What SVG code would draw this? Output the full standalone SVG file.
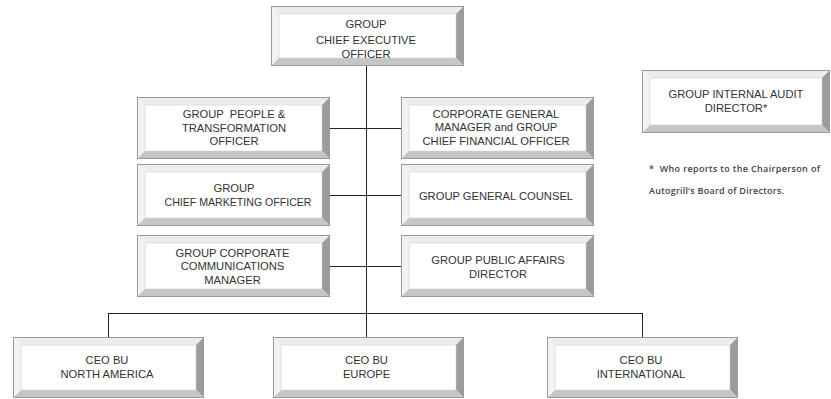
<svg xmlns="http://www.w3.org/2000/svg" xmlns:xlink="http://www.w3.org/1999/xlink" width="831" height="399" viewBox="0 0 831 399">
  <style>
    .top { fill: #ececec; }
    .lft { fill: #f3f3f3; }
    .rgt { fill: #9c9c9c; }
    .bot { fill: #c6c6c6; }
    .face { fill: #ffffff; stroke: #d0d0d0; stroke-width: 0.6; }
    .edge { fill: none; stroke: #9a9a9a; stroke-width: 1; }
    .lbl { font-family: "Liberation Sans", Arial, sans-serif; font-size: 11.2px; fill: #333333; text-anchor: middle; }
    .note { font-family: "Open Sans", "Liberation Sans", sans-serif; font-size: 9px; font-weight: 600; fill: #444444; }
    .link { stroke: #222222; stroke-width: 1; fill: none; }
  </style>
  <defs>
    <!-- bevelled frame, 193 x 62 -->
    <g id="bevel-mid">
      <polygon class="top" points="0,0 193,0 185,8 8,8"/>
      <polygon class="lft" points="0,0 8,8 8,54 0,62"/>
      <polygon class="rgt" points="193,0 193,62 185,54 185,8"/>
      <polygon class="bot" points="0,62 8,54 185,54 193,62"/>
      <rect class="face" x="8" y="8" width="177" height="46"/>
      <rect class="edge" x="0.5" y="0.5" width="192" height="61"/>
    </g>
    <!-- bevelled frame, 193 x 60 -->
    <g id="bevel-ceo">
      <polygon class="top" points="0,0 193,0 185,8 8,8"/>
      <polygon class="lft" points="0,0 8,8 8,52 0,60"/>
      <polygon class="rgt" points="193,0 193,60 185,52 185,8"/>
      <polygon class="bot" points="0,60 8,52 185,52 193,60"/>
      <rect class="face" x="8" y="8" width="177" height="44"/>
      <rect class="edge" x="0.5" y="0.5" width="192" height="59"/>
    </g>
    <!-- bevelled frame, 191 x 61 -->
    <g id="bevel-bu">
      <polygon class="top" points="0,0 191,0 183,8 8,8"/>
      <polygon class="lft" points="0,0 8,8 8,53 0,61"/>
      <polygon class="rgt" points="191,0 191,61 183,53 183,8"/>
      <polygon class="bot" points="0,61 8,53 183,53 191,61"/>
      <rect class="face" x="8" y="8" width="175" height="45"/>
      <rect class="edge" x="0.5" y="0.5" width="190" height="60"/>
    </g>
    <!-- bevelled frame, 188 x 63 -->
    <g id="bevel-audit">
      <polygon class="top" points="0,0 188,0 180,8 8,8"/>
      <polygon class="lft" points="0,0 8,8 8,55 0,63"/>
      <polygon class="rgt" points="188,0 188,63 180,55 180,8"/>
      <polygon class="bot" points="0,63 8,55 180,55 188,63"/>
      <rect class="face" x="8" y="8" width="172" height="47"/>
      <rect class="edge" x="0.5" y="0.5" width="187" height="62"/>
    </g>
  </defs>

  <rect width="831" height="399" fill="#ffffff"/>

  <!-- connectors -->
  <g id="connectors">
    <line class="link" x1="366.5" y1="66" x2="366.5" y2="337"/>
    <line class="link" x1="330" y1="128.5" x2="401" y2="128.5"/>
    <line class="link" x1="330" y1="195.5" x2="401" y2="195.5"/>
    <line class="link" x1="330" y1="266.5" x2="401" y2="266.5"/>
    <line class="link" x1="108" y1="313.5" x2="643" y2="313.5"/>
    <line class="link" x1="108.5" y1="313" x2="108.5" y2="337"/>
    <line class="link" x1="642.5" y1="313" x2="642.5" y2="337"/>
  </g>

  <g id="group-ceo">
    <use href="#bevel-ceo" xlink:href="#bevel-ceo" x="271" y="6"/>
    <text class="lbl" x="366" y="28">GROUP</text>
    <text class="lbl" x="366" y="43.5">CHIEF EXECUTIVE</text>
    <text class="lbl" x="366" y="57.5">OFFICER</text>
  </g>

  <g id="people-transformation">
    <use href="#bevel-mid" xlink:href="#bevel-mid" x="137" y="97"/>
    <text class="lbl" x="234" y="118" xml:space="preserve">GROUP  PEOPLE &amp;</text>
    <text class="lbl" x="234" y="131.5">TRANSFORMATION</text>
    <text class="lbl" x="234" y="144.5">OFFICER</text>
  </g>

  <g id="cfo">
    <use href="#bevel-mid" xlink:href="#bevel-mid" x="401" y="97"/>
    <text class="lbl" x="496" y="117.5">CORPORATE GENERAL</text>
    <text class="lbl" x="496" y="131">MANAGER and GROUP</text>
    <text class="lbl" x="496" y="144.5" textLength="147" lengthAdjust="spacingAndGlyphs">CHIEF FINANCIAL OFFICER</text>
  </g>

  <g id="marketing">
    <use href="#bevel-mid" xlink:href="#bevel-mid" x="137" y="164"/>
    <text class="lbl" x="234" y="191.5">GROUP</text>
    <text class="lbl" x="238" y="205.5" textLength="147" lengthAdjust="spacingAndGlyphs">CHIEF MARKETING OFFICER</text>
  </g>

  <g id="general-counsel">
    <use href="#bevel-mid" xlink:href="#bevel-mid" x="401" y="164"/>
    <text class="lbl" x="496" y="199.5">GROUP GENERAL COUNSEL</text>
  </g>

  <g id="corporate-communications">
    <use href="#bevel-mid" xlink:href="#bevel-mid" x="137" y="235"/>
    <text class="lbl" x="232.5" y="256.5">GROUP CORPORATE</text>
    <text class="lbl" x="232.5" y="270">COMMUNICATIONS</text>
    <text class="lbl" x="232.5" y="283.5">MANAGER</text>
  </g>

  <g id="public-affairs">
    <use href="#bevel-mid" xlink:href="#bevel-mid" x="401" y="235"/>
    <text class="lbl" x="498" y="264">GROUP PUBLIC AFFAIRS</text>
    <text class="lbl" x="498" y="277.5">DIRECTOR</text>
  </g>

  <g id="bu-north-america">
    <use href="#bevel-bu" xlink:href="#bevel-bu" x="13" y="337"/>
    <text class="lbl" x="107" y="364">CEO BU</text>
    <text class="lbl" x="107" y="377.5">NORTH AMERICA</text>
  </g>

  <g id="bu-europe">
    <use href="#bevel-bu" xlink:href="#bevel-bu" x="273" y="337"/>
    <text class="lbl" x="366.5" y="364">CEO BU</text>
    <text class="lbl" x="366.5" y="377.5">EUROPE</text>
  </g>

  <g id="bu-international">
    <use href="#bevel-bu" xlink:href="#bevel-bu" x="547" y="337"/>
    <text class="lbl" x="641" y="364">CEO BU</text>
    <text class="lbl" x="641" y="377.5">INTERNATIONAL</text>
  </g>

  <g id="internal-audit">
    <use href="#bevel-audit" xlink:href="#bevel-audit" x="642" y="70"/>
    <text class="lbl" x="736" y="97.5">GROUP INTERNAL AUDIT</text>
    <text class="lbl" x="736" y="111.5">DIRECTOR*</text>
  </g>

  <!-- footnote for the audit director -->
  <g id="audit-note">
    <text class="note" x="649" y="172" textLength="171" lengthAdjust="spacing" xml:space="preserve">*  Who reports to the Chairperson of</text>
    <text class="note" x="649" y="194" textLength="135" lengthAdjust="spacing">Autogrill’s Board of Directors.</text>
  </g>
</svg>
